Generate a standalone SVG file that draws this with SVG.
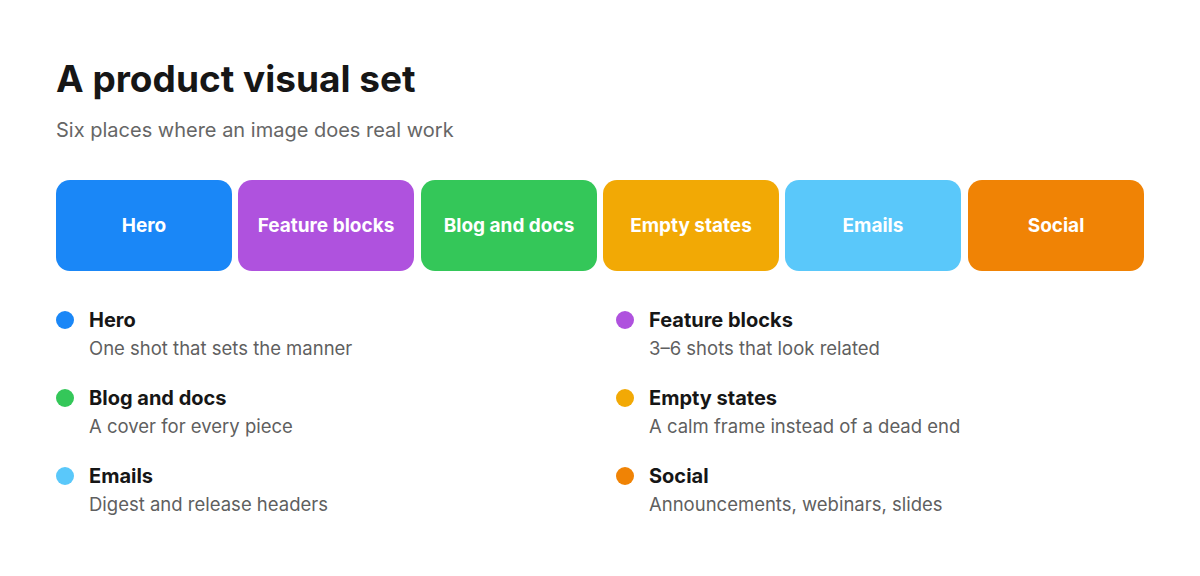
<svg xmlns="http://www.w3.org/2000/svg" width="1200" height="576" viewBox="0 0 1200 576">
<style>
text{font-family:Inter,"Noto Sans",sans-serif}
.t{font-size:37px;font-weight:700;fill:#161616}
.s{font-size:20px;fill:#666}
.b{font-size:19px;font-weight:700;fill:#fff}
.h{font-size:20px;font-weight:700;fill:#161616}
.d{font-size:18.5px;fill:#5f5f5f}
</style>
<rect width="1200" height="576" fill="#fff"/>
<text class="t" x="56" y="92">A product visual set</text>
<text class="s" x="56" y="137">Six places where an image does real work</text>
<g id="box-hero"><rect x="56" y="180" width="176" height="91" rx="14" fill="#1a87f7"/><text class="b" x="144" y="232" text-anchor="middle">Hero</text></g>
<g id="box-feature"><rect x="238" y="180" width="176" height="91" rx="14" fill="#af52de"/><text class="b" x="326" y="232" text-anchor="middle">Feature blocks</text></g>
<g id="box-blog"><rect x="421" y="180" width="176" height="91" rx="14" fill="#34c759"/><text class="b" x="509" y="232" text-anchor="middle">Blog and docs</text></g>
<g id="box-empty"><rect x="603" y="180" width="176" height="91" rx="14" fill="#f2a905"/><text class="b" x="691" y="232" text-anchor="middle">Empty states</text></g>
<g id="box-emails"><rect x="785" y="180" width="176" height="91" rx="14" fill="#5ac8fa"/><text class="b" x="873" y="232" text-anchor="middle">Emails</text></g>
<g id="box-social"><rect x="968" y="180" width="176" height="91" rx="14" fill="#f08305"/><text class="b" x="1056" y="232" text-anchor="middle">Social</text></g>
<g id="connectors"/>
<g id="leg-hero"><circle cx="65" cy="320" r="9" fill="#1a87f7"/><text class="h" x="89" y="327">Hero</text><text class="d" x="89" y="355">One shot that sets the manner</text></g>
<g id="leg-feature"><circle cx="625" cy="320" r="9" fill="#af52de"/><text class="h" x="649" y="327">Feature blocks</text><text class="d" x="649" y="355">3–6 shots that look related</text></g>
<g id="leg-blog"><circle cx="65" cy="398" r="9" fill="#34c759"/><text class="h" x="89" y="405">Blog and docs</text><text class="d" x="89" y="433">A cover for every piece</text></g>
<g id="leg-empty"><circle cx="625" cy="398" r="9" fill="#f2a905"/><text class="h" x="649" y="405">Empty states</text><text class="d" x="649" y="433">A calm frame instead of a dead end</text></g>
<g id="leg-emails"><circle cx="65" cy="476" r="9" fill="#5ac8fa"/><text class="h" x="89" y="483">Emails</text><text class="d" x="89" y="511">Digest and release headers</text></g>
<g id="leg-social"><circle cx="625" cy="476" r="9" fill="#f08305"/><text class="h" x="649" y="483">Social</text><text class="d" x="649" y="511">Announcements, webinars, slides</text></g>
</svg>
